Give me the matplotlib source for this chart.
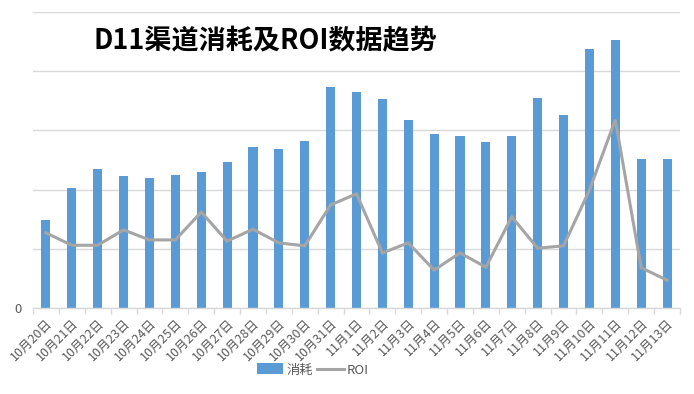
import matplotlib
matplotlib.use('Agg')
import matplotlib.pyplot as plt
import numpy as np

plt.rcParams['font.family'] = ['Noto Sans CJK SC', 'DejaVu Sans']

# dates shown on the x axis
dates = ['10月20日', '10月21日', '10月22日', '10月23日', '10月24日', '10月25日',
         '10月26日', '10月27日', '10月28日', '10月29日', '10月30日', '10月31日',
         '11月1日', '11月2日', '11月3日', '11月4日', '11月5日', '11月6日',
         '11月7日', '11月8日', '11月9日', '11月10日', '11月11日', '11月12日',
         '11月13日']

# spend (消耗) in gridline units
spend = [1.49, 2.03, 2.35, 2.23, 2.20, 2.25, 2.30, 2.47, 2.72, 2.69, 2.82, 3.73,
         3.65, 3.53, 3.18, 2.94, 2.91, 2.80, 2.91, 3.55, 3.26, 4.38, 4.53, 2.52,
         2.52]

# ROI, same units (secondary axis, labels hidden)
roi = [1.27, 1.06, 1.06, 1.32, 1.15, 1.15, 1.62, 1.13, 1.33, 1.10, 1.05, 1.74,
       1.93, 0.93, 1.10, 0.64, 0.93, 0.69, 1.54, 1.01, 1.05, 1.99, 3.18, 0.68,
       0.47]

bar_color = '#5B9BD5'
line_color = '#A5A5A5'
text_color = '#595959'
grid_color = '#D9D9D9'

fig = plt.figure(figsize=(6.94, 3.94), dpi=100)
ax = fig.add_axes([33 / 694, 1 - 308 / 394, (680 - 33) / 694, (308 - 12) / 394])

x = np.arange(len(dates))
bars = ax.bar(x, spend, width=0.35, color=bar_color, zorder=2, label='消耗')

ax.set_xlim(-0.5, len(dates) - 0.5)
ax.set_ylim(0, 5)
ax.set_yticks([0, 1, 2, 3, 4, 5])
ax.set_yticklabels(['0', '', '', '', '', ''])
ax.yaxis.grid(True, color=grid_color, linewidth=1, zorder=0)
ax.tick_params(axis='y', length=0, labelsize=9.5, labelcolor=text_color, pad=8)

ax.set_xticks(x)
ax.set_xticklabels(dates, rotation=45, ha='right', rotation_mode='anchor',
                   fontsize=9, color=text_color)
ax.tick_params(axis='x', length=0, pad=6)
ax.set_xticks(np.arange(len(dates) + 1) - 0.5, minor=True)
ax.tick_params(axis='x', which='minor', length=4, color=grid_color, width=1)

for side in ['top', 'right', 'left']:
    ax.spines[side].set_visible(False)
ax.spines['bottom'].set_color(grid_color)
ax.spines['bottom'].set_linewidth(1)

ax2 = ax.twinx()
line, = ax2.plot(x, roi, color=line_color, linewidth=2.2, zorder=3, label='ROI',
                 solid_joinstyle='miter')
ax2.set_ylim(0, 5)
ax2.set_yticks([])
for side in ['top', 'right', 'left', 'bottom']:
    ax2.spines[side].set_visible(False)

fig.text(94 / 694, 1 - 41 / 394, 'D11渠道消耗及ROI数据趋势', fontsize=19.5,
         fontweight='bold', color='black', ha='left', va='center')

fig.legend([bars, line], ['消耗', 'ROI'], loc='center', ncol=2,
           bbox_to_anchor=(313 / 694, 1 - 370 / 394), frameon=False,
           fontsize=9.5, labelcolor=text_color, handlelength=2.0,
           handleheight=0.9, columnspacing=0.3, handletextpad=0.25)

fig.savefig('out.png', dpi=100)
